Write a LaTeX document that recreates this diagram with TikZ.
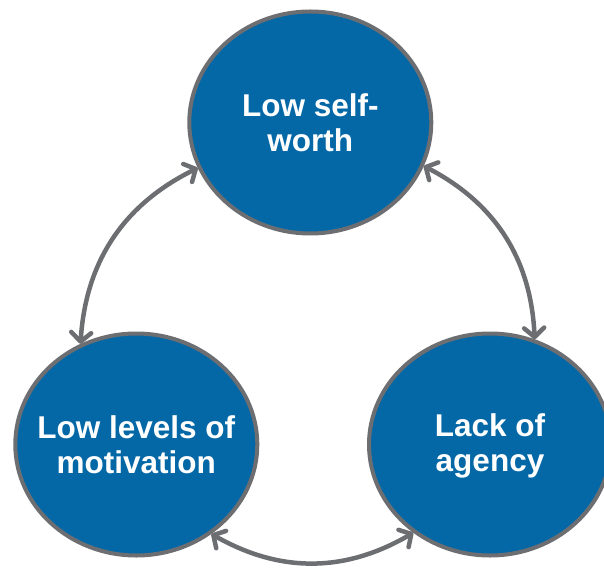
\documentclass[tikz,border=0pt]{standalone}
\usepackage{fontspec}
\setmainfont{Liberation Sans}
\usetikzlibrary{shapes.geometric,arrows.meta}
\definecolor{blobblue}{HTML}{0468A7}
\definecolor{edgegray}{HTML}{6D6E71}
\begin{document}
\begin{tikzpicture}[x=1pt,y=1pt,
  blob/.style={ellipse, draw=edgegray, line width=4pt, fill=blobblue,
    minimum width=242pt, minimum height=222pt, inner sep=0pt},
  lbl/.style={text=white, font=\fontsize{31.5}{34.5}\selectfont\bfseries,
    align=center, inner sep=0pt},
  link/.style={draw=edgegray, line width=4.5pt,
    {Straight Barb[length=9pt,width=20pt,round]}-{Straight Barb[length=9pt,width=20pt,round]}}]
\useasboundingbox (0,0) rectangle (604,-569);
\node[blob] (top) at (310.3,-122.5) {};
\node[blob] (bl) at (136.3,-444.5) {};
\node[blob] (br) at (490,-444.5) {};
\node[lbl] (topT) at (top.center) {Low self-\\worth};
\node[lbl] (blT) at (bl.center) {Low levels of\\motivation};
\node[lbl] (brT) at ([yshift=-1.5pt]br.center) {Lack of\\agency};
\draw[link] (top.202) to[bend right=30] (bl.119);
\draw[link] (top.339) to[bend left=30] (br.67);
\draw[link] (bl.310) to[bend right=30] (br.229);
\end{tikzpicture}
\end{document}
